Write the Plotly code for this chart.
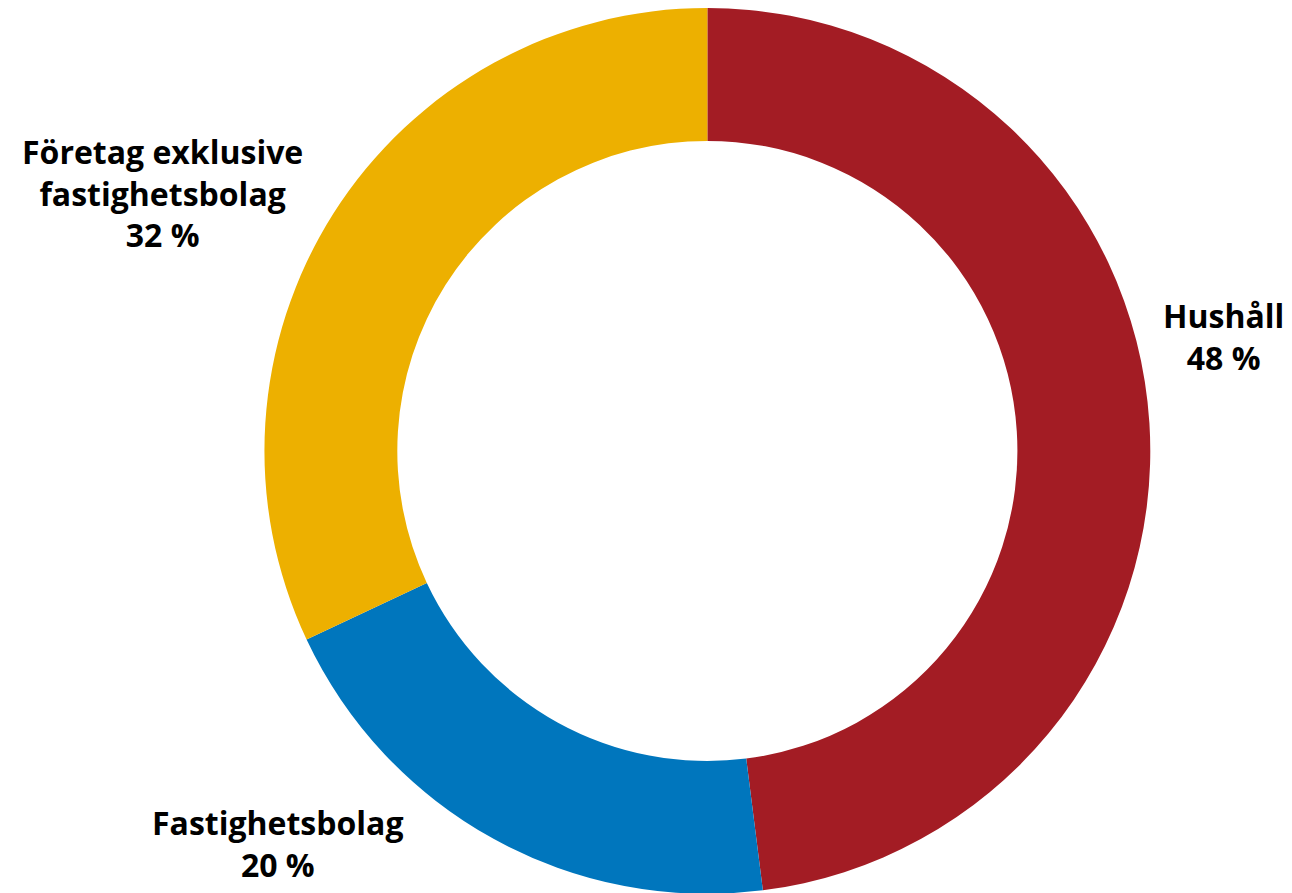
import plotly.graph_objects as go

labels = ["Hushåll", "Fastighetsbolag", "Företag exklusive<br>fastighetsbolag"]
values = [48, 20, 32]
colors = ["#A31C24", "#0076BD", "#EDB000"]

# label anchor positions (paper coords)
label_x = [1215 / 1292, 270 / 1292, 154 / 1292]
label_y = [1 - 328 / 893, 1 - 835 / 893, 1 - 185 / 893]

fig = go.Figure(go.Pie(
    labels=labels,
    values=values,
    hole=0.70,
    sort=False,
    direction="clockwise",
    rotation=0,
    marker=dict(colors=colors, line=dict(width=0)),
    textinfo="none",
    hoverinfo="label+percent",
    showlegend=False,
    domain=dict(x=[0.0938, 0.9888], y=[0.008, 1.0]),
))

for lab, v, x, y in zip(labels, values, label_x, label_y):
    fig.add_annotation(
        x=x, y=y, xref="paper", yref="paper",
        text=f"<b>{lab}<br>{v} %</b>",
        showarrow=False, xanchor="center", yanchor="middle",
        align="center",
        font=dict(family="Open Sans, Noto Sans, sans-serif", size=32, color="#000000"),
    )

fig.update_layout(
    width=1292, height=893,
    margin=dict(l=0, r=0, t=0, b=0),
    paper_bgcolor="white", plot_bgcolor="white",
)

fig.write_html("out.html")
